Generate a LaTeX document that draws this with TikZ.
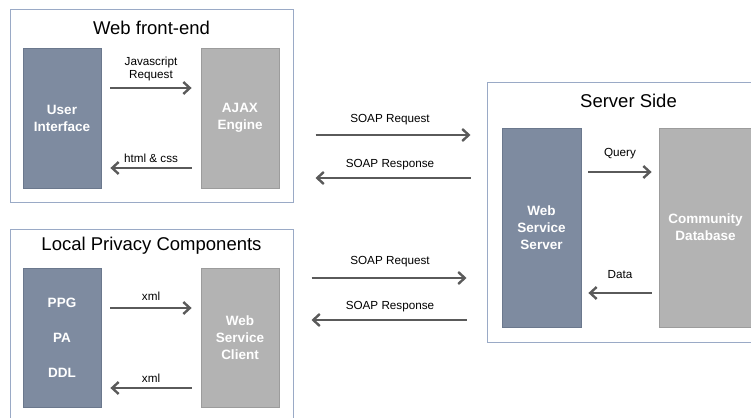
\documentclass[tikz,border=0pt]{standalone}
\usepackage{fontspec}
\setmainfont{Liberation Sans}
\usetikzlibrary{arrows.meta,calc}
\definecolor{slatefill}{HTML}{7E8BA0}
\definecolor{slateline}{HTML}{6B788D}
\definecolor{greyfill}{HTML}{B3B3B3}
\definecolor{greyline}{HTML}{9C9C9C}
\definecolor{framecol}{HTML}{9AAAC6}
\definecolor{arrowcol}{HTML}{5A5A5A}
\tikzset{
  frame/.style={draw=framecol, line width=1pt, fill=white, minimum width=283pt, inner sep=0pt},
  frametitle/.style={font=\fontsize{18.5pt}{21pt}\selectfont, inner sep=0pt},
  bluebox/.style={draw=slateline, fill=slatefill, line width=0.8pt, minimum width=78pt,
    inner sep=0pt, align=center, text=white, font=\fontsize{13.5pt}{17pt}\selectfont\bfseries},
  greybox/.style={draw=greyline, fill=greyfill, line width=0.8pt, minimum width=78pt,
    inner sep=0pt, align=center, text=white, font=\fontsize{13.5pt}{17pt}\selectfont\bfseries},
  flow/.style={draw=arrowcol, line width=2.8pt,
    -{Straight Barb[length=6.5pt,width=12pt,line width=2.4pt]}},
  lbl/.style={font=\fontsize{11.7pt}{13pt}\selectfont, align=center, inner sep=0pt, text=black}
}
\begin{document}
\begin{tikzpicture}[x=1pt,y=-1pt]
\useasboundingbox (0,0) rectangle (751,417);
\clip (0,0) rectangle (751,417);
\fill[white] (0,0) rectangle (751,417);

% ---- web front-end ----
\node[frame, minimum height=192pt] (web) at (151.5,106) {};
\node[frametitle] (webtitle) at ($(web.north)+(0,18)$) {Web front-end};
\node[bluebox, minimum height=140pt] (ui) at (62,118) {User\\Interface};
\node[greybox, minimum height=140pt] (ajax) at (240,118) {AJAX\\Engine};
\draw[flow, shorten <=9pt, shorten >=9pt] (ui.east |- 0,88) -- (ajax.west |- 0,88)
  node[lbl, midway, yshift=19pt] {Javascript\\Request};
\draw[flow, shorten <=9pt, shorten >=9pt] (ajax.west |- 0,168) -- (ui.east |- 0,168)
  node[lbl, midway, yshift=10pt] {html \& css};

% ---- local privacy components ----
\node[frame, minimum height=201pt] (local) at (151.5,329.5) {};
\node[frametitle] (localtitle) at ($(local.north)+(0,17)$) {Local Privacy Components};
\node[bluebox, minimum height=139pt, font=\fontsize{13.5pt}{35pt}\selectfont\bfseries] (ppg) at (62,337.5) {PPG\\PA\\DDL};
\node[greybox, minimum height=139pt] (wsc) at (240,337.5) {Web\\Service\\Client};
\draw[flow, shorten <=9pt, shorten >=9pt] (ppg.east |- 0,308) -- (wsc.west |- 0,308)
  node[lbl, midway, yshift=12pt] {xml};
\draw[flow, shorten <=9pt, shorten >=9pt] (wsc.west |- 0,388) -- (ppg.east |- 0,388)
  node[lbl, midway, yshift=10pt] {xml};

% ---- server side ----
\node[frame, minimum height=259pt] (server) at (628.5,212.5) {};
\node[frametitle] (servertitle) at ($(server.north)+(0,18)$) {Server Side};
\node[bluebox, minimum width=79pt, minimum height=199pt] (wss) at (541.5,227.5) {Web\\Service\\Server};
\node[greybox, minimum width=93pt, minimum height=199pt] (cdb) at (705.5,227.5) {Community\\Database};
\draw[flow, shorten <=7pt, shorten >=7pt] (wss.east |- 0,172) -- (cdb.west |- 0,172)
  node[lbl, midway, yshift=18pt] {Query};
\draw[flow, shorten <=7pt, shorten >=7pt] (cdb.west |- 0,293) -- (wss.east |- 0,293)
  node[lbl, midway, yshift=18pt] {Data};

% ---- SOAP messages between the tiers ----
\draw[flow, shorten <=22pt, shorten >=16pt] (web.east |- 0,135) -- (server.west |- 0,135)
  node[lbl, midway, yshift=15pt] {SOAP Request};
\draw[flow, shorten <=16pt, shorten >=22pt] (server.west |- 0,178) -- (web.east |- 0,178)
  node[lbl, midway, yshift=13pt] {SOAP Response};
\draw[flow, shorten <=18pt, shorten >=20pt] (local.east |- 0,278) -- (server.west |- 0,278)
  node[lbl, midway, yshift=16pt] {SOAP Request};
\draw[flow, shorten <=20pt, shorten >=18pt] (server.west |- 0,320) -- (local.east |- 0,320)
  node[lbl, midway, yshift=13pt] {SOAP Response};
\end{tikzpicture}
\end{document}
